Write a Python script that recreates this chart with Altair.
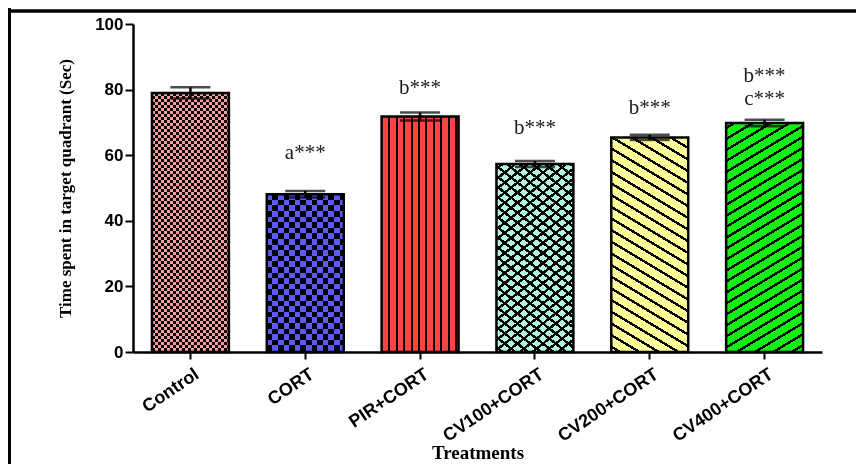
import math
import altair as alt
import pandas as pd

# ---------------- data ----------------
categories = ["Control", "CORT", "PIR+CORT", "CV100+CORT", "CV200+CORT", "CV400+CORT"]
means = [79.0, 48.1, 71.8, 57.3, 65.4, 69.8]
sems = [1.7, 1.0, 1.2, 0.9, 0.8, 1.0]
fill_colors = ["#ff9c9c", "#5a5aff", "#ff4242", "#b2f5df", "#ffff9a", "#14ee14"]

ann_categories = ["CORT", "PIR+CORT", "CV100+CORT", "CV200+CORT", "CV400+CORT", "CV400+CORT"]
ann_texts = ["a***", "b***", "b***", "b***", "b***", "c***"]
ann_values = [60.7, 80.5, 68.3, 74.4, 84.0, 77.1]

y_ticks = [0, 20, 40, 60, 80, 100]

# ---------------- geometry / style ----------------
W, H = 689, 328
PAD_INNER = 0.33
YMAX = 100
step = W / len(categories)
bar_w = step * (1 - PAD_INNER)

df = pd.DataFrame({"cat": categories, "mean": means, "sem": sems})
df["lo"] = df["mean"] - df["sem"]
df["hi"] = df["mean"] + df["sem"]
ann = pd.DataFrame({"cat": ann_categories, "txt": ann_texts, "val": ann_values})

X = alt.X("cat:N", sort=categories,
          scale=alt.Scale(paddingInner=PAD_INNER, paddingOuter=PAD_INNER / 2),
          axis=alt.Axis(title="Treatments", labelAngle=-34, labelAlign="right",
                        labelBaseline="top", labelOffset=2, labelPadding=6,
                        labelFont="Liberation Sans", labelFontWeight="bold",
                        labelFontSize=18, labelColor="black", tickSize=7,
                        titleFont="Liberation Serif", titleFontWeight="bold",
                        titleFontSize=19, titleColor="black",
                        titleBaseline="alphabetic", titleY=106))
YAX = alt.Axis(title="Time spent in target quadrant (Sec)", values=y_ticks, grid=False,
               labelFont="Liberation Sans", labelFontWeight="bold", labelFontSize=17,
               labelColor="black", labelPadding=2, tickSize=8,
               titleFont="Liberation Serif", titleFontWeight="bold", titleFontSize=17,
               titleColor="black", titlePadding=20)
YSC = alt.Scale(domain=[0, YMAX], nice=False)


def stripe_stops(length, period, thick, bg, fg, phase=0.0):
    stops = [(0.0, bg)]
    start = phase
    while start < length:
        s = max(start, 0.0) / length
        e = min(start + thick, length) / length
        if e > s:
            stops += [(s, bg), (s, fg), (e, fg), (e, bg)]
        start += period
    stops.append((1.0, bg))
    out = []
    last = 0.0
    for o, c in stops:
        o = max(last, round(o, 5))
        last = o
        out.append(alt.GradientStop(offset=o, color=c))
    return out


def vstripes(w, period, thick, bg, fg, phase=0.0):
    return alt.LinearGradient(gradient="linear", x1=0, y1=0, x2=1, y2=0,
                              stops=stripe_stops(w, period, thick, bg, fg, phase))


def hstripes(h, period, thick, bg, fg, phase=0.0):
    return alt.LinearGradient(gradient="linear", x1=0, y1=0, x2=0, y2=1,
                              stops=stripe_stops(h, period, thick, bg, fg, phase))


def dstripes(w, h, slope, rising, period, thick, bg, fg):
    A = slope * w / (slope * w + h)
    B = h / (slope * w + h)
    n2 = A * A + B * B
    L = (slope * w + h) / math.sqrt(slope * slope + 1)
    if rising:
        x1, y1, x2, y2 = 0, 0, A / n2, B / n2
    else:
        x1, y1, x2, y2 = 0, 1, A / n2, 1 - B / n2
    return alt.LinearGradient(gradient="linear", x1=x1, y1=y1, x2=x2, y2=y2,
                              stops=stripe_stops(L, period, thick, bg, fg, period / 3))


def bar_layer(cat, **mk):
    return (alt.Chart(df).transform_filter(alt.datum.cat == cat)
            .mark_bar(**mk)
            .encode(x=X, y=alt.Y("mean:Q", scale=YSC, axis=YAX)))


layers = []
STROKE = dict(stroke="black", strokeWidth=2.5)
for cat, m, col in zip(categories, means, fill_colors):
    h = m / YMAX * H
    if cat in ("Control", "CORT"):
        cell = 3.0 if cat == "Control" else 5.6
        layers.append(bar_layer(cat, fill=hstripes(h, 2 * cell, cell, "white", "black"),
                                strokeWidth=0))
        layers.append(bar_layer(cat, fill=vstripes(bar_w, 2 * cell, cell, "black", "white"),
                                strokeWidth=0, blend="difference"))
        layers.append(bar_layer(cat, fill=col, blend="multiply", **STROKE))
    elif cat == "PIR+CORT":
        layers.append(bar_layer(cat, fill=vstripes(bar_w, 7.4, 2.0, col, "black", 6.7), **STROKE))
    elif cat == "CV100+CORT":
        layers.append(bar_layer(cat, fill=dstripes(bar_w, h, 0.79, False, 7.9, 2.4, col, "black"),
                                strokeWidth=0))
        layers.append(bar_layer(cat, fill=dstripes(bar_w, h, 0.79, True, 7.9, 2.4,
                                                   "rgba(0,0,0,0)", "black"), **STROKE))
    elif cat == "CV200+CORT":
        layers.append(bar_layer(cat, fill=dstripes(bar_w, h, 0.6, False, 10.0, 2.4, col, "black"),
                                **STROKE))
    else:
        layers.append(bar_layer(cat, fill=dstripes(bar_w, h, 0.6, True, 9.4, 2.4, col, "black"),
                                **STROKE))

err_rule = alt.Chart(df).mark_rule(color="black", strokeWidth=2.5).encode(
    x=X, y=alt.Y("lo:Q", scale=YSC, axis=YAX), y2="hi:Q")
cap_hi = alt.Chart(df).mark_tick(color="black", thickness=2.5, size=40).encode(
    x=X, y=alt.Y("hi:Q", scale=YSC, axis=YAX))
cap_lo = alt.Chart(df).mark_tick(color="black", thickness=2.5, size=40).encode(
    x=X, y=alt.Y("lo:Q", scale=YSC, axis=YAX))

labels = alt.Chart(ann).mark_text(font="Liberation Serif", fontSize=21, color="#1a1a1a",
                                  align="center", baseline="middle").encode(
    x=X, y=alt.Y("val:Q", scale=YSC, axis=YAX), text="txt:N")

frame_df = pd.DataFrame({"k": [0]})
frame_left = alt.Chart(frame_df).mark_rule(color="black", strokeWidth=4).encode(
    x=alt.value(-124), y=alt.value(-16), y2=alt.value(H + 128))
frame_top = alt.Chart(frame_df).mark_rule(color="black", strokeWidth=3.5).encode(
    x=alt.value(-126), x2=alt.value(W + 40), y=alt.value(-13))

chart = alt.layer(*layers, err_rule, cap_hi, cap_lo, labels, frame_left, frame_top).properties(
    width=W, height=H,
    padding={"left": 125, "top": 16, "right": 34, "bottom": 112},
    autosize=alt.AutoSizeParams(type="none"),
    background="white",
).configure_view(stroke=None).configure_axis(
    domainColor="black", domainWidth=2.5, tickColor="black", tickWidth=2, grid=False
)

chart.save("out.html", embed_options={"renderer": "svg", "actions": False})
